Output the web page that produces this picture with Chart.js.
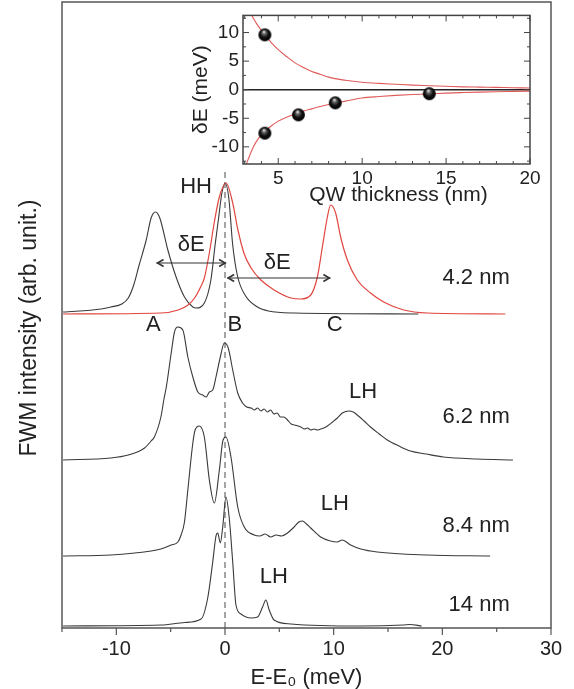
<!DOCTYPE html>
<html>
<head>
<meta charset="utf-8">
<script src="https://cdn.jsdelivr.net/npm/chart.js@4.4.1/dist/chart.umd.min.js"></script>
<style>
  html, body { margin: 0; padding: 0; background: #fff; }
  #wrap { position: relative; width: 574px; height: 689px; }
  #main { position: absolute; left: 0; top: 0; }
  #inset { position: absolute; left: 180px; top: 0; }
</style>
</head>
<body>
<div id="wrap">
  <canvas id="main" width="574" height="689"></canvas>
  <canvas id="inset" width="370" height="215"></canvas>
</div>
<script>
// spectra: energy (meV) and FWM intensity above each trace's own baseline
const e42bX = [-14.9, -11.4, -10.5, -9.5, -8.9, -8.4, -7.9, -7.25, -6.8, -6.4, -6.0, -5.26, -4.5, -3.73, -2.96, -2.66, -1.9, -1.3, -0.9, -0.6, -0.3, 0, 0.35, 0.7, 1.15, 1.9, 3.0, 4.0, 6.4, 17.8];
const e42bY = [0.2, 0.5, 0.7, 1.0, 1.6, 2.9, 4.9, 7.4, 9.6, 10.2, 9.6, 6.4, 3.7, 1.7, 0.7, 0.6, 1.1, 3.4, 7.0, 9.5, 12.0, 13.1, 11.6, 7.0, 3.8, 1.8, 0.7, 0.3, 0.1, 0];

const e42rX = [-14.9, -5.9, -4.3, -3.4, -2.8, -2.2, -1.9, -1.44, -0.98, -0.52, 0.1, 0.71, 1.17, 1.77, 2.4, 3.3, 4.52, 6.06, 6.97, 7.89, 8.5, 8.96, 9.42, 9.72, 10.18, 10.64, 11.26, 12.17, 13.39, 14.6, 16.45, 18.6, 25.8];
const e42rY = [0, 0.1, 0.4, 0.9, 1.6, 2.8, 3.6, 6.1, 9.2, 11.7, 13.1, 11.1, 8.5, 6.0, 4.6, 3.4, 2.4, 1.6, 1.5, 1.9, 3.7, 6.7, 9.7, 10.9, 10.1, 7.7, 5.4, 3.4, 2.1, 1.2, 0.4, 0.1, 0];

const e62X = [-14.9, -10.5, -8.9, -7.4, -6.8, -6.5, -5.9, -5.6, -5.4, -4.95, -4.65, -4.34, -3.88, -3.42, -2.96, -2.5, -2.05, -1.74, -1.44, -1.13, -0.83, -0.43, -0.06, 0.3, 0.71, 1.17, 1.62, 2.0, 2.4, 2.7, 3.0, 3.3, 3.6, 3.9, 4.2, 4.5, 4.8, 5.1, 5.4, 5.75, 6.1, 6.4, 6.97, 7.3, 7.6, 7.9, 8.2, 8.5, 8.8, 9.1, 9.42, 9.9, 10.34, 10.8, 11.4, 11.8, 12.17, 12.8, 13.39, 14.2, 14.93, 16, 17.06, 18.5, 20.1, 23.2, 26.5];
const e62Y = [0, 0.2, 0.5, 1.2, 1.9, 2.3, 4.3, 6.2, 7.3, 10.7, 12.8, 13.3, 13.0, 10.3, 8.3, 6.8, 6.5, 6.3, 6.8, 7.0, 8.3, 10.3, 11.7, 11.2, 9.0, 6.7, 5.7, 5.3, 5.2, 5.0, 5.2, 4.9, 5.1, 4.8, 5.0, 4.6, 4.7, 4.3, 4.3, 4.0, 3.6, 3.5, 3.3, 3.1, 3.2, 3.0, 3.1, 3.0, 3.1, 3.2, 3.4, 3.8, 4.2, 4.7, 4.9, 4.8, 4.5, 3.9, 3.3, 2.6, 2.0, 1.4, 0.9, 0.6, 0.3, 0.1, 0];

const e84X = [-14.9, -10.5, -6.8, -5.9, -4.95, -4.34, -4.04, -3.73, -3.42, -2.96, -2.75, -2.36, -1.9, -1.44, -0.98, -0.52, -0.18, 0.09, 0.55, 1.17, 1.77, 2.69, 3.2, 3.7, 4.2, 4.7, 5.2, 5.75, 6.36, 6.8, 7.13, 7.5, 7.89, 8.8, 9.72, 10.3, 10.8, 11.56, 12.5, 14.0, 18.6, 24.4];
const e84Y = [0, 0.1, 0.5, 0.7, 1.1, 1.4, 2.1, 3.4, 6.6, 11.3, 12.6, 13.0, 11.9, 7.6, 5.3, 8.6, 11.6, 11.9, 9.9, 4.9, 2.9, 2.1, 2.0, 2.2, 1.9, 2.1, 2.0, 2.3, 2.9, 3.4, 3.5, 3.2, 2.8, 1.9, 1.5, 1.4, 1.6, 1.1, 0.7, 0.4, 0.1, 0];

const e14X = [-14.9, -5.9, -3.7, -2.2, -1.59, -1.13, -0.83, -0.67, -0.43, -0.21, 0.09, 0.39, 0.71, 1.01, 1.47, 2.39, 3.0, 3.46, 3.76, 4.07, 4.52, 6.06, 12.5, 16.4, 17.0, 18.1];
const e14Y = [0, 0.1, 0.35, 0.7, 2.8, 6.4, 9.0, 9.3, 8.3, 9.9, 12.9, 10.8, 6.4, 2.1, 1.2, 0.8, 0.9, 1.9, 2.6, 1.6, 0.6, 0.2, 0, 0.1, 0.15, 0];

// vertical offsets of the stacked traces
const offset42 = 31.4;
const offset62 = 16.8;
const offset84 = 7.2;
const offset14 = 0.2;

const mainTicks = [-10, 0, 10, 20, 30];

// text notes on the main plot (energy, intensity)
const noteText = ['HH', 'δE', 'δE', 'A', 'B', 'C', '4.2 nm', 'LH', '6.2 nm', 'LH', '8.4 nm', 'LH', '14 nm'];
const noteE = [-2.66, -3.1, 4.8, -6.6, 0.9, 10.1, 26.2, 12.7, 26.2, 10.1, 26.2, 4.5, 26.2];
const noteY = [44.1, 38.3, 36.5, 30.3, 30.3, 30.3, 35.0, 23.6, 21.1, 12.4, 10.2, 5.1, 2.3];
const noteAlign = ['center', 'center', 'center', 'center', 'center', 'center', 'right', 'center', 'right', 'center', 'right', 'center', 'right'];

// double arrows marking delta E
const arrowFrom = [-6.3, 0.2];
const arrowTo = [0.1, 9.7];
const arrowLevel = [36.5, 35.0];

// inset: energy splitting vs well width
const wellWidth = [4.2, 4.2, 6.2, 8.4, 14];
const splitting = [9.6, -7.6, -4.4, -2.3, -0.7];
const fitUpX = [3.4, 3.7, 4.2, 4.6, 5.0, 5.5, 6.0, 6.5, 7.0, 7.5, 8.0, 9.0, 10, 11, 12, 13, 14, 15, 16, 17, 18, 19, 20];
const fitUpY = [13.1, 11.6, 9.6, 8.2, 7.0, 5.8, 4.7, 3.9, 3.2, 2.7, 2.2, 1.65, 1.3, 1.1, 0.95, 0.8, 0.7, 0.6, 0.5, 0.45, 0.4, 0.35, 0.3];
const fitLowX = [3.1, 3.3, 3.5, 3.8, 4.2, 4.6, 5.0, 5.5, 6.0, 6.5, 7.0, 7.5, 8.0, 8.5, 9.0, 10, 11, 12, 13, 14, 15, 16, 17, 18, 19, 20];
const fitLowY = [-13, -11.5, -10.1, -8.6, -7.3, -6.3, -5.5, -4.8, -4.25, -3.75, -3.35, -2.95, -2.6, -2.3, -2.0, -1.45, -1.2, -1.0, -0.85, -0.75, -0.6, -0.5, -0.42, -0.35, -0.3, -0.25];
const insetXTicks = [5, 10, 15, 20];
const insetYTicks = [-10, -5, 0, 5, 10];

const FONT = '"Liberation Sans", Arial, sans-serif';
Chart.defaults.font.family = FONT;
Chart.defaults.color = '#222';

const pts = (xs, ys, off = 0) => xs.map((x, i) => ({ x, y: ys[i] + off }));
const fixedTicks = (vals) => (s) => { s.ticks = vals.map((v) => ({ value: v })); };

const mainDecor = {
  id: 'mainDecor',
  afterDatasetsDraw(chart) {
    const { ctx, chartArea: a, scales: { x, y } } = chart;
    ctx.save();
    ctx.strokeStyle = '#555';
    ctx.lineWidth = 1.5;
    ctx.strokeRect(a.left, a.top, a.right - a.left, a.bottom - a.top);

    // ticks below the axis, long at labels, short between
    ctx.lineWidth = 1.2;
    ctx.beginPath();
    for (let v = x.min; v <= x.max + 1e-6; v += 5) {
      const px = x.getPixelForValue(v);
      const len = v % 10 === 0 ? 7 : 4;
      ctx.moveTo(px, a.bottom);
      ctx.lineTo(px, a.bottom + len);
    }
    ctx.stroke();

    // arrows
    ctx.strokeStyle = '#333';
    arrowFrom.forEach((e, i) => {
      const x1 = x.getPixelForValue(e);
      const x2 = x.getPixelForValue(arrowTo[i]);
      const py = y.getPixelForValue(arrowLevel[i]);
      ctx.lineWidth = 1.2;
      ctx.beginPath();
      ctx.moveTo(x1, py);
      ctx.lineTo(x2, py);
      ctx.stroke();
      ctx.lineWidth = 1.6;
      ctx.beginPath();
      ctx.moveTo(x1 + 7, py - 3.5); ctx.lineTo(x1 + 1, py); ctx.lineTo(x1 + 7, py + 3.5);
      ctx.moveTo(x2 - 7, py - 3.5); ctx.lineTo(x2 - 1, py); ctx.lineTo(x2 - 7, py + 3.5);
      ctx.stroke();
    });

    // notes
    ctx.fillStyle = '#222';
    ctx.font = '22px ' + FONT;
    ctx.textBaseline = 'middle';
    noteText.forEach((t, i) => {
      ctx.textAlign = noteAlign[i];
      ctx.fillText(t, x.getPixelForValue(noteE[i]), y.getPixelForValue(noteY[i]));
    });

    // y axis title, sits a little below the middle of the frame
    ctx.translate(30, 328);
    ctx.rotate(-Math.PI / 2);
    ctx.textAlign = 'center';
    ctx.font = '23px ' + FONT;
    ctx.fillText('FWM intensity (arb. unit.)', 0, 0);
    ctx.restore();
  }
};

new Chart(document.getElementById('main'), {
  type: 'line',
  data: {
    datasets: [
      { data: pts(e42rX, e42rY, offset42), borderColor: '#e0463f', borderWidth: 1.2 },
      { data: pts(e42bX, e42bY, offset42), borderColor: '#3a3a3a', borderWidth: 1.1 },
      { data: pts(e62X, e62Y, offset62), borderColor: '#3a3a3a', borderWidth: 1.1 },
      { data: pts(e84X, e84Y, offset84), borderColor: '#3a3a3a', borderWidth: 1.1 },
      { data: pts(e14X, e14Y, offset14), borderColor: '#3a3a3a', borderWidth: 1.1 },
      { data: [{ x: 0, y: 0 }, { x: 0, y: 46 }], borderColor: '#888', borderWidth: 1.5, borderDash: [6, 4], cubicInterpolationMode: 'default', tension: 0 }
    ]
  },
  options: {
    responsive: false,
    animation: false,
    layout: { padding: { left: 0, right: 23, top: 2, bottom: 0 } },
    elements: {
      point: { radius: 0 },
      line: { cubicInterpolationMode: 'monotone', fill: false }
    },
    plugins: { legend: { display: false }, tooltip: { enabled: false } },
    scales: {
      x: {
        type: 'linear', min: -15, max: 30,
        afterBuildTicks: fixedTicks(mainTicks),
        ticks: { autoSkip: false, maxRotation: 0, padding: 9, font: { size: 20 } },
        grid: { display: false, drawTicks: false },
        border: { display: false },
        title: { display: true, text: 'E-E₀ (meV)', font: { size: 22, lineHeight: 1 }, padding: 0 },
        afterFit: (s) => { s.height = 61; }
      },
      y: {
        min: 0, max: 62.6,
        ticks: { display: false },
        grid: { display: false, drawTicks: false },
        border: { display: false },
        afterFit: (s) => { s.width = 62; }
      }
    }
  },
  plugins: [mainDecor]
});

// shiny black ball for the inset markers
function makeBall(r) {
  const c = document.createElement('canvas');
  c.width = c.height = r * 2 + 2;
  const g = c.getContext('2d');
  const cx = r + 1;
  const grad = g.createRadialGradient(cx - r * 0.15, cx - r * 0.5, r * 0.05, cx, cx, r);
  grad.addColorStop(0, '#f0f0f0');
  grad.addColorStop(0.25, '#666');
  grad.addColorStop(0.6, '#111');
  grad.addColorStop(1, '#000');
  g.fillStyle = grad;
  g.beginPath();
  g.arc(cx, cx, r, 0, Math.PI * 2);
  g.fill();
  return c;
}

const insetDecor = {
  id: 'insetDecor',
  beforeDatasetsDraw(chart) {
    const { ctx, chartArea: a } = chart;
    ctx.save();
    ctx.fillStyle = '#fff';
    ctx.fillRect(a.left, a.top, a.right - a.left, a.bottom - a.top);
    ctx.restore();
  },
  afterDatasetsDraw(chart) {
    const { ctx, chartArea: a, scales: { x, y } } = chart;
    ctx.save();
    ctx.strokeStyle = '#444';
    ctx.lineWidth = 1.5;
    ctx.strokeRect(a.left, a.top, a.right - a.left, a.bottom - a.top);
    ctx.lineWidth = 1;
    ctx.beginPath();
    for (let v = Math.ceil(x.min); v <= x.max; v += 1) {
      const px = x.getPixelForValue(v);
      const len = v % 5 === 0 ? 6 : 3;
      ctx.moveTo(px, a.bottom); ctx.lineTo(px, a.bottom - len);
      ctx.moveTo(px, a.top); ctx.lineTo(px, a.top + len);
    }
    for (let v = -12.5; v <= 12.5; v += 2.5) {
      const py = y.getPixelForValue(v);
      const len = v % 5 === 0 ? 6 : 3;
      ctx.moveTo(a.left, py); ctx.lineTo(a.left + len, py);
      ctx.moveTo(a.right, py); ctx.lineTo(a.right - len, py);
    }
    ctx.stroke();

    // x title, set a bit right of centre as in the figure
    ctx.fillStyle = '#222';
    ctx.font = '21px ' + FONT;
    ctx.textAlign = 'center';
    ctx.textBaseline = 'middle';
    ctx.fillText('QW thickness (nm)', (a.left + a.right) / 2 + 12, a.bottom + 31);
    ctx.restore();
  }
};

const insetMin = 2.9;
const insetMax = 20;

new Chart(document.getElementById('inset'), {
  type: 'line',
  data: {
    datasets: [
      { data: pts(wellWidth, splitting), showLine: false, pointStyle: makeBall(6.5), pointRadius: 6.5 },
      { data: pts(fitUpX, fitUpY), borderColor: '#e05a5a', borderWidth: 1.1 },
      { data: pts(fitLowX, fitLowY), borderColor: '#e05a5a', borderWidth: 1.1 },
      { data: [{ x: insetMin, y: 0 }, { x: insetMax, y: 0 }], borderColor: '#222', borderWidth: 1.6 }
    ]
  },
  options: {
    responsive: false,
    animation: false,
    layout: { padding: { left: 0, right: 20, top: 13, bottom: 0 } },
    elements: {
      point: { radius: 0 },
      line: { cubicInterpolationMode: 'monotone', fill: false }
    },
    plugins: { legend: { display: false }, tooltip: { enabled: false } },
    scales: {
      x: {
        type: 'linear', min: insetMin, max: insetMax,
        afterBuildTicks: fixedTicks(insetXTicks),
        ticks: { autoSkip: false, maxRotation: 0, padding: 3, font: { size: 19 } },
        grid: { display: false, drawTicks: false },
        border: { display: false },
        afterFit: (s) => { s.height = 51; }
      },
      y: {
        min: -13, max: 13,
        afterBuildTicks: fixedTicks(insetYTicks),
        ticks: { autoSkip: false, padding: 4, font: { size: 19 } },
        grid: { display: false, drawTicks: false },
        border: { display: false },
        title: { display: true, text: 'δE (meV)', font: { size: 21 }, padding: { top: 9, bottom: 0 } },
        afterFit: (s) => { s.width = 63; }
      }
    }
  },
  plugins: [insetDecor]
});
</script>
</body>
</html>
